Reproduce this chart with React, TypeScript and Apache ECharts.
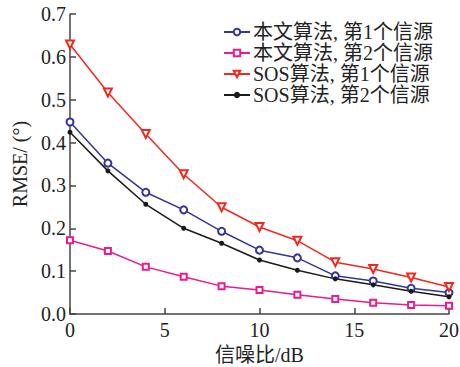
import React, { useEffect, useRef } from "react";
import * as echarts from "echarts";

const snr = [0, 2, 4, 6, 8, 10, 12, 14, 16, 18, 20];
const names = ["本文算法, 第1个信源", "本文算法, 第2个信源", "SOS算法, 第1个信源", "SOS算法, 第2个信源"];
const ours1 = [0.448, 0.352, 0.284, 0.243, 0.193, 0.149, 0.131, 0.089, 0.077, 0.06, 0.05];
const ours2 = [0.172, 0.147, 0.11, 0.087, 0.065, 0.056, 0.045, 0.035, 0.026, 0.021, 0.019];
const sos1 = [0.629, 0.517, 0.42, 0.326, 0.249, 0.203, 0.171, 0.121, 0.105, 0.085, 0.063];
const sos2 = [0.424, 0.334, 0.256, 0.2, 0.165, 0.126, 0.102, 0.082, 0.068, 0.053, 0.04];
const xTicks = [0, 5, 10, 15, 20];
const yTicks = [0, 0.1, 0.2, 0.3, 0.4, 0.5, 0.6, 0.7];

const FONT = "'Liberation Serif', 'Noto Sans CJK SC', serif";

export default function App() {
  const ref = useRef<HTMLDivElement>(null);
  useEffect(() => {
    if (!ref.current) return;
    const chart = echarts.init(ref.current, undefined, { renderer: "svg" });
    const mk = (vals: number[]) => snr.map((x, i) => [x, vals[i]]);
    const base = { type: "line", lineStyle: { width: 1.5 }, z: 3 };
    chart.setOption({
      animation: false,
      textStyle: { fontFamily: FONT },
      grid: { left: 70, right: 11, top: 14, bottom: 53, containLabel: false, outerBoundsMode: "none" },
      legend: {
        orient: "vertical",
        left: 218,
        top: 17,
        itemGap: 1,
        itemWidth: 26,
        itemHeight: 8,
        textStyle: {
          fontFamily: FONT,
          fontSize: 20,
          lineHeight: 20,
          color: "#222",
          padding: [0, 0, 0, -2],
        },
        data: names,
      },
      xAxis: {
        type: "value",
        min: xTicks[0],
        max: xTicks[xTicks.length - 1],
        interval: 5,
        name: "信噪比/dB",
        nameLocation: "middle",
        nameGap: 29,
        nameTextStyle: { fontFamily: FONT, fontSize: 20, color: "#222" },
        axisLine: { lineStyle: { color: "#444", width: 1.5 } },
        axisTick: { inside: true, length: 6, lineStyle: { color: "#444", width: 1.5 } },
        axisLabel: { fontFamily: FONT, fontSize: 20, color: "#222", margin: 6 },
        splitLine: { show: false },
      },
      yAxis: {
        type: "value",
        min: yTicks[0],
        max: yTicks[yTicks.length - 1],
        interval: 0.1,
        name: "RMSE/ (°)",
        nameLocation: "middle",
        nameGap: 38,
        nameTextStyle: { fontFamily: FONT, fontSize: 20, color: "#222" },
        axisLine: { show: true, lineStyle: { color: "#444", width: 1.5 } },
        axisTick: { show: true, inside: true, length: 6, lineStyle: { color: "#444", width: 1.5 } },
        axisLabel: {
          fontFamily: FONT,
          fontSize: 20,
          color: "#222",
          margin: 4,
          formatter: (v: number) => v.toFixed(1),
        },
        splitLine: { show: false },
      },
      series: [
        {
          ...base,
          name: names[0],
          data: mk(ours1),
          color: "#34349a",
          symbol: "emptyCircle",
          symbolSize: 7,
          itemStyle: { borderWidth: 1.5 },
        },
        {
          ...base,
          name: names[1],
          data: mk(ours2),
          color: "#ea1b8c",
          symbol: "emptyRect",
          symbolSize: 6,
          itemStyle: { borderWidth: 1.5 },
        },
        {
          ...base,
          name: names[2],
          data: mk(sos1),
          color: "#f0281e",
          symbol: "emptyTriangle",
          symbolRotate: 180,
          symbolSize: 8,
          itemStyle: { borderWidth: 1.5 },
        },
        {
          ...base,
          name: names[3],
          data: mk(sos2),
          color: "#1a1a1a",
          symbol: "circle",
          symbolSize: 5,
        },
      ],
    });
    return () => chart.dispose();
  }, []);
  return <div ref={ref} style={{ width: 460, height: 367, position: "absolute", left: 0, top: 0 }} />;
}
